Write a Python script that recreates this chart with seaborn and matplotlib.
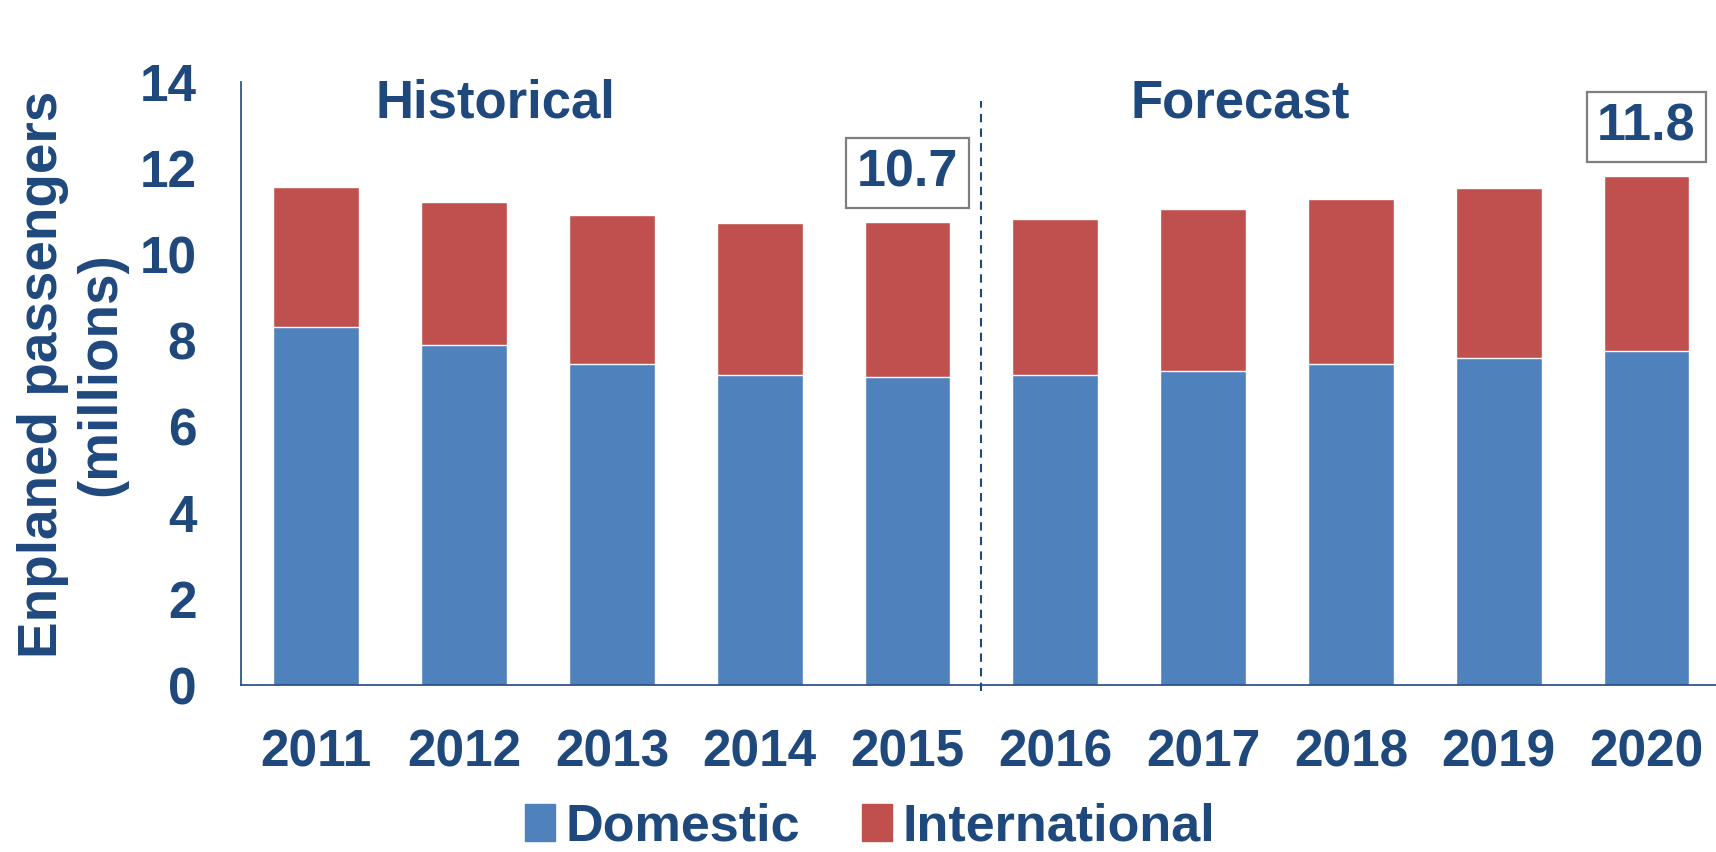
import seaborn as sns
import matplotlib.pyplot as plt
import pandas as pd
from matplotlib.patches import Patch

years = ["2011", "2012", "2013", "2014", "2015", "2016", "2017", "2018", "2019", "2020"]
domestic = [8.31, 7.88, 7.44, 7.19, 7.16, 7.19, 7.29, 7.44, 7.60, 7.75]
international = [3.25, 3.32, 3.46, 3.53, 3.59, 3.63, 3.76, 3.84, 3.93, 4.06]
callouts = {"2015": "10.7", "2020": "11.8"}

blue = "#4F81BD"
red = "#C0504D"
navy = "#1F497D"

df = pd.DataFrame({"Year": years, "Domestic": domestic, "International": international})
df["Total"] = df["Domestic"] + df["International"]

sns.set_style("white")
plt.rcParams["font.family"] = ["Liberation Sans", "DejaVu Sans"]
plt.rcParams["font.weight"] = "bold"

fig = plt.figure(figsize=(17.16, 8.52), dpi=100)
ax = fig.add_axes([0.1404, 0.196, 0.8596, 0.708])

# stacked: total in red, domestic drawn over it
sns.barplot(data=df, x="Year", y="Total", color=red, width=0.58, saturation=1, ax=ax)
sns.barplot(data=df, x="Year", y="Domestic", color=blue, width=0.58, saturation=1, ax=ax)

ax.set_ylim(0, 14)
ax.set_xlim(-0.51, 9.47)
ax.set_yticks(range(0, 15, 2))
ax.set_xlabel("")
ax.set_ylabel("")
ax.tick_params(axis="both", length=0, labelsize=37, labelcolor=navy)
ax.tick_params(axis="x", pad=31)
ax.tick_params(axis="y", pad=32)
for lab in ax.get_xticklabels() + ax.get_yticklabels():
    lab.set_fontweight("bold")

sns.despine(ax=ax, top=True, right=True)
for s in ["left", "bottom"]:
    ax.spines[s].set_color(navy)
    ax.spines[s].set_linewidth(1.2)

# historical / forecast divider
ax.plot([4.5, 4.5], [-0.15, 13.55], linestyle=(0, (4, 3)), color=navy, lw=1.5, clip_on=False)
ax.text(1.21, 13.5, "Historical", ha="center", va="center", fontsize=38, fontweight="bold", color=navy)
ax.text(6.25, 13.5, "Forecast", ha="center", va="center", fontsize=38, fontweight="bold", color=navy)

for yr, txt in callouts.items():
    i = years.index(yr)
    tot = df.loc[i, "Total"]
    ax.text(i, tot + 1.14, txt, ha="center", va="center", fontsize=37.5, fontweight="bold", color=navy,
            bbox=dict(boxstyle="square,pad=0.2", fc="white", ec="#7F7F7F", lw=1.6))

fig.text(0.025, 0.561, "Enplaned passengers", rotation=90, ha="center", va="center",
         fontsize=39.5, fontweight="bold", color=navy)
fig.text(0.059, 0.561, "(millions)", rotation=90, ha="center", va="center",
         fontsize=39.5, fontweight="bold", color=navy)

handles = [Patch(color=blue, label="Domestic"), Patch(color=red, label="International")]
leg = fig.legend(handles=handles, loc="center", bbox_to_anchor=(0.507, 0.029), ncol=2, frameon=False,
                 prop={"size": 37.5, "weight": "bold"}, handlelength=0.58, handleheight=0.7,
                 handletextpad=0.2, columnspacing=1.2, borderpad=0)
for t in leg.get_texts():
    t.set_color(navy)

plt.savefig("out.png", dpi=100)
